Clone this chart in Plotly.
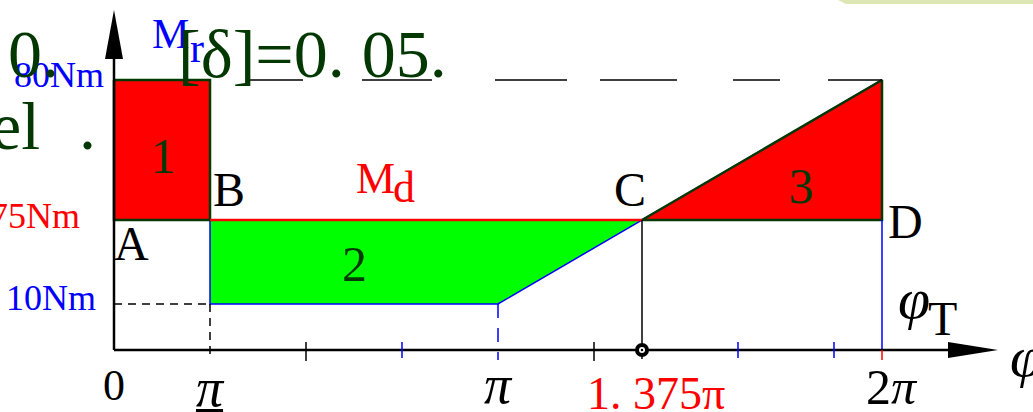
import plotly.graph_objects as go

# ---- data (angle in units of pi, torque in Nm) ----
PHI_MR = [0.0, 0.25, 0.25, 1.0, 2.0]      # resisting torque breakpoints
MR = [80, 80, 10, 10, 80]                  # resisting torque Mr
MD = 36.25                                 # constant driving torque Md
PHI_C = 1.375                              # Md meets Mr again (point C)
TICKS_BLACK = [0.5, 1.25]
TICKS_BLUE = [0.75, 1.625, 1.875]
TICK_RED = 2.0

W, H = 1033, 412
X0_PX, PX_PER_PI = 114, 384                # horizontal scale
Y0_PX, PX_PER_NM = 336, 3.2                # vertical scale
AXIS_Y = -4.375                            # baseline of the drawn axes

SERIF = "Liberation Serif"
DKGREEN = "#033803"
RED = "#ff0000"
BLUE = "#0000ff"


def px_x(p):
    return (p - X0_PX) / PX_PER_PI


def px_y(p):
    return (Y0_PX - p) / PX_PER_NM


fig = go.Figure()

# area 2 (deficit, green)
fig.add_trace(go.Scatter(
    x=[PHI_MR[1], PHI_C, PHI_MR[3], PHI_MR[2], PHI_MR[1]],
    y=[MD, MD, MR[3], MR[2], MD],
    fill="toself", fillcolor="#00ff00", line=dict(width=0),
    mode="lines", hoverinfo="skip"))

# resisting torque curve
fig.add_trace(go.Scatter(x=PHI_MR, y=MR, mode="lines",
                         line=dict(color=BLUE, width=1.5), hoverinfo="skip"))

# area 1 and area 3 (surplus, red)
fig.add_trace(go.Scatter(
    x=[PHI_MR[0], PHI_MR[1], PHI_MR[1], PHI_MR[0], PHI_MR[0]],
    y=[MR[0], MR[1], MD, MD, MR[0]],
    fill="toself", fillcolor=RED, line=dict(color=DKGREEN, width=2.5),
    mode="lines", hoverinfo="skip"))
fig.add_trace(go.Scatter(
    x=[PHI_C, PHI_MR[4], PHI_MR[4], PHI_C],
    y=[MD, MR[4], MD, MD],
    fill="toself", fillcolor=RED, line=dict(color=DKGREEN, width=2.5),
    mode="lines", hoverinfo="skip"))

# driving torque line
fig.add_trace(go.Scatter(x=[PHI_MR[1], PHI_C], y=[MD, MD], mode="lines",
                         line=dict(color=RED, width=2.5), hoverinfo="skip"))

# guide lines
fig.add_trace(go.Scatter(x=[PHI_MR[0], PHI_MR[1]], y=[MR[2], MR[2]], mode="lines",
                         line=dict(color="black", width=1.5, dash="8px,6px"), hoverinfo="skip"))
fig.add_trace(go.Scatter(x=[PHI_MR[1], PHI_MR[1]], y=[MR[2], px_y(360)], mode="lines",
                         line=dict(color="black", width=1.5, dash="8px,6px"), hoverinfo="skip"))
fig.add_trace(go.Scatter(x=[PHI_MR[3], PHI_MR[3]], y=[MR[3], px_y(360)], mode="lines",
                         line=dict(color=BLUE, width=1.5, dash="14px,10px"), hoverinfo="skip"))
fig.add_trace(go.Scatter(x=[PHI_MR[4], PHI_MR[4]], y=[MD, AXIS_Y], mode="lines",
                         line=dict(color=BLUE, width=1.5), hoverinfo="skip"))
fig.add_trace(go.Scatter(x=[PHI_C, PHI_C], y=[MD, px_y(359)], mode="lines",
                         line=dict(color="black", width=1.5), hoverinfo="skip"))
fig.add_trace(go.Scatter(
    x=[PHI_MR[1], PHI_MR[4]], y=[MR[0], MR[0]], mode="lines",
    line=dict(color="black", width=1.5,
              dash="0px,40px,53px,59px,70px,63px,72px,33px,77px,56px,47px,48px,54px"),
    hoverinfo="skip"))

# axes
fig.add_trace(go.Scatter(x=[0, 0], y=[AXIS_Y, px_y(40)], mode="lines",
                         line=dict(color="black", width=2.5), hoverinfo="skip"))
fig.add_trace(go.Scatter(x=[0, px_x(960)], y=[AXIS_Y, AXIS_Y], mode="lines",
                         line=dict(color="black", width=2.5), hoverinfo="skip"))

# ticks on the angle axis
for xs, col, top, bot in [(TICKS_BLACK, "black", 342, 361),
                          (TICKS_BLUE, BLUE, 342, 358),
                          ([TICK_RED], RED, 350, 360)]:
    for t in xs:
        fig.add_trace(go.Scatter(x=[t, t], y=[px_y(top), px_y(bot)], mode="lines",
                                 line=dict(color=col, width=1.5), hoverinfo="skip"))

# hinge mark at point C on the axis
for size, col in [(14, "black"), (6, "white"), (2.5, "black")]:
    fig.add_trace(go.Scatter(x=[PHI_C], y=[AXIS_Y], mode="markers",
                             marker=dict(symbol="circle", size=size, color=col,
                                         line=dict(width=0)), hoverinfo="skip"))

shapes = [
    # arrow heads
    dict(type="path", xref="x", yref="y", fillcolor="black", line=dict(width=0),
         path=f"M {px_x(105)},{px_y(59)} L 0,{px_y(10)} L {px_x(123)},{px_y(59)} Z"),
    dict(type="path", xref="x", yref="y", fillcolor="black", line=dict(width=0),
         path=f"M {px_x(948)},{px_y(342)} L {px_x(998)},{AXIS_Y} L {px_x(948)},{px_y(358)} Z"),
    # pale banner corner at the top right
    dict(type="path", xref="paper", yref="paper", fillcolor="#dde7b4", line=dict(width=0),
         path=f"M {838/W},1 L {1.0},1 L 1.0,{1 - 4/H} L {846/W},{1 - 4/H} Z"),
]


def txt(text, x, y, size, color="black", xref="x", yref="y", xanchor="center",
        yanchor="middle", family=SERIF):
    return dict(text=text, x=x, y=y, xref=xref, yref=yref, showarrow=False,
                xanchor=xanchor, yanchor=yanchor,
                font=dict(family=family, size=size, color=color))


ann = [
    # point and area labels
    txt("A", px_x(131), px_y(243), 48),
    txt("B", px_x(229), px_y(189), 48),
    txt("C", px_x(630), px_y(189), 48),
    txt("D", px_x(905), px_y(221), 48),
    txt("1", px_x(163), px_y(156), 50, DKGREEN),
    txt("2", px_x(354), px_y(264), 50, DKGREEN),
    txt("3", px_x(801), px_y(186), 50, DKGREEN),
    txt("M", px_x(375), px_y(178), 44, RED),
    txt("d", px_x(404), px_y(187), 44, RED),
    txt("M", px_x(170), px_y(34), 42, BLUE),
    txt("r", px_x(197), px_y(48), 42, BLUE),
    # torque labels
    txt("80Nm", px_x(106), px_y(75), 36, BLUE, xanchor="right"),
    txt("10Nm", px_x(98), px_y(298), 36, BLUE, xanchor="right"),
    txt("75Nm", px_x(82), px_y(216), 36, RED, xanchor="right"),
    # angle labels
    txt("0", 0, px_y(385), 44),
    txt("<u><i>π</i></u>", PHI_MR[1], px_y(388), 54),
    txt("<i>π</i>", PHI_MR[3], px_y(385), 54),
    txt("1. 375π", PHI_C + px_x(656) - px_x(642), px_y(393), 46, RED),
    txt("2<i>π</i>", TICK_RED + px_x(892) - px_x(882), px_y(387), 50),
    txt("<i>φ</i>", px_x(1026), px_y(356), 58),
    txt("<i>φ</i>", px_x(914), px_y(298), 58),
    txt("T", px_x(942), px_y(318), 48),
    # overlaid slide text
    txt("0.", 6 / W, 1 - 54 / H, 68, DKGREEN, xref="paper", yref="paper", xanchor="left"),
    txt("[δ]=0. 05.", 176 / W, 1 - 54 / H, 68, DKGREEN, xref="paper", yref="paper",
        xanchor="left"),
    txt("el", 42 / W, 1 - 126 / H, 68, DKGREEN, xref="paper", yref="paper",
        xanchor="right"),
    txt(".", 87 / W, 1 - 126 / H, 68, DKGREEN, xref="paper", yref="paper"),
]

fig.update_layout(
    width=W, height=H, margin=dict(l=0, r=0, t=0, b=0),
    paper_bgcolor="white", plot_bgcolor="white", showlegend=False,
    xaxis=dict(range=[px_x(0), px_x(W)], visible=False, fixedrange=True),
    yaxis=dict(range=[px_y(H), px_y(0)], visible=False, fixedrange=True),
    shapes=shapes, annotations=ann,
)

fig.write_html("out.html")
